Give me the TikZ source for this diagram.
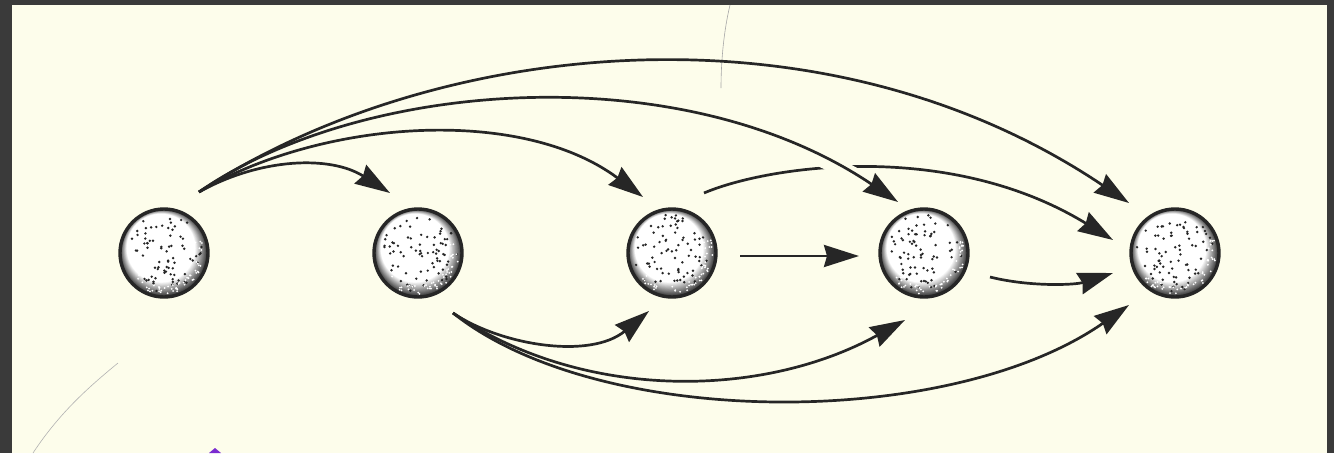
\documentclass[tikz,border=0pt]{standalone}
\usetikzlibrary{arrows.meta,calc}
\definecolor{bg}{HTML}{FDFDEB}
\definecolor{framecol}{HTML}{3A3A3A}
\definecolor{ink}{HTML}{262626}
\definecolor{purplemark}{HTML}{7A2BD0}
\tikzset{
  sphere/.style={circle, minimum size=88pt, inner sep=0pt, draw=ink, line width=3.4pt, fill=white,
    path picture={
      \coordinate (pc) at (path picture bounding box.center);
      \foreach \k in {0,...,16}{
        \pgfmathsetmacro\c{80-80*\k/16}
        \fill[black!\c] ($(pc)+(-0.18*\k,-0.3*\k)$) circle ({44-0.6*\k});
      }
      \foreach \i in {1,...,75}{
        \pgfmathsetmacro\ang{rnd*360}
        \pgfmathsetmacro\rr{39*sqrt(rnd)}
        \fill[ink] ($(pc)+(\ang:\rr)$) circle (1.35pt);
      }
      \foreach \i in {1,...,50}{
        \pgfmathsetmacro\ang{-20+rnd*160}
        \pgfmathsetmacro\rr{33+8*rnd}
        \fill[white] ($(pc)+(\ang:\rr)$) circle (1pt);
      }
    }},
  arr/.style={line width=2.7pt, draw=ink, -{Stealth[length=35pt,width=22pt,inset=3pt]}},
  halo/.style={preaction={draw=bg, line width=16pt, -}},
}
\begin{document}
\begin{tikzpicture}[x=1pt,y=-1pt]
\pgfmathsetseed{11}
\fill[framecol] (0,0) rectangle (1334,453);
\fill[bg] (12,5) rectangle (1327,453);
\useasboundingbox (0,0) rectangle (1334,453);
% faint scan marks
\draw[black!35, line width=0.6pt] (730,5) .. controls (724,30) and (721,60) .. (721,88);
\draw[black!30, line width=0.6pt] (33,453) .. controls (60,412) and (90,386) .. (118,363);
\fill[purplemark] (209,453) -- (215,448) -- (221,453) -- cycle;
% spheres
\node[sphere] (s1) at (164,253) {};
\node[sphere] (s2) at (418,253) {};
\node[sphere] (s3) at (672,253) {};
\node[sphere] (s4) at (924,253) {};
\node[sphere] (s5) at (1175,253) {};
% connector ends
\coordinate (o1) at ($(s1)+(35,-61)$);
\coordinate (o2) at ($(s2)+(35,60)$);
\coordinate (o3) at ($(s3)+(32,-60)$);
\coordinate (t12) at ($(s2)+(-28,-60)$);
\coordinate (t13) at ($(s3)+(-29,-56)$);
\coordinate (t14) at ($(s4)+(-26,-51)$);
\coordinate (t15) at ($(s5)+(-46,-50)$);
\coordinate (t35) at ($(s5)+(-62,-13)$);
\coordinate (a34) at ($(s3)+(68,3)$);
\coordinate (t34) at ($(s4)+(-65,3)$);
\coordinate (a45) at ($(s4)+(66,24)$);
\coordinate (t45) at ($(s5)+(-62,20)$);
\coordinate (t23) at ($(s3)+(-23,58)$);
\coordinate (t24) at ($(s4)+(-19,67)$);
\coordinate (t25) at ($(s5)+(-46,52)$);
% sphere 3 to sphere 5 (passes under 1->4)
\draw[arr] (o3) .. controls (770,165) and (950,140) .. (t35);
% from sphere 1
\draw[arr, halo] (o1) .. controls (360,80) and (680,55) .. (t14);
\draw[arr] (o1) .. controls (430,40) and (820,-5) .. (t15);
\draw[arr] (o1) .. controls (320,120) and (520,105) .. (t13);
\draw[arr] (o1) .. controls (260,158) and (330,155) .. (t12);
% straight and short
\draw[arr] (a34) -- (t34);
\draw[arr] (a45) .. controls (1030,287) and (1075,285) .. (t45);
% from sphere 2 below
\draw[arr] (o2) .. controls (500,345) and (590,360) .. (t23);
\draw[arr] (o2) .. controls (580,400) and (760,400) .. (t24);
\draw[arr] (o2) .. controls (600,430) and (950,430) .. (t25);
\end{tikzpicture}
\end{document}
